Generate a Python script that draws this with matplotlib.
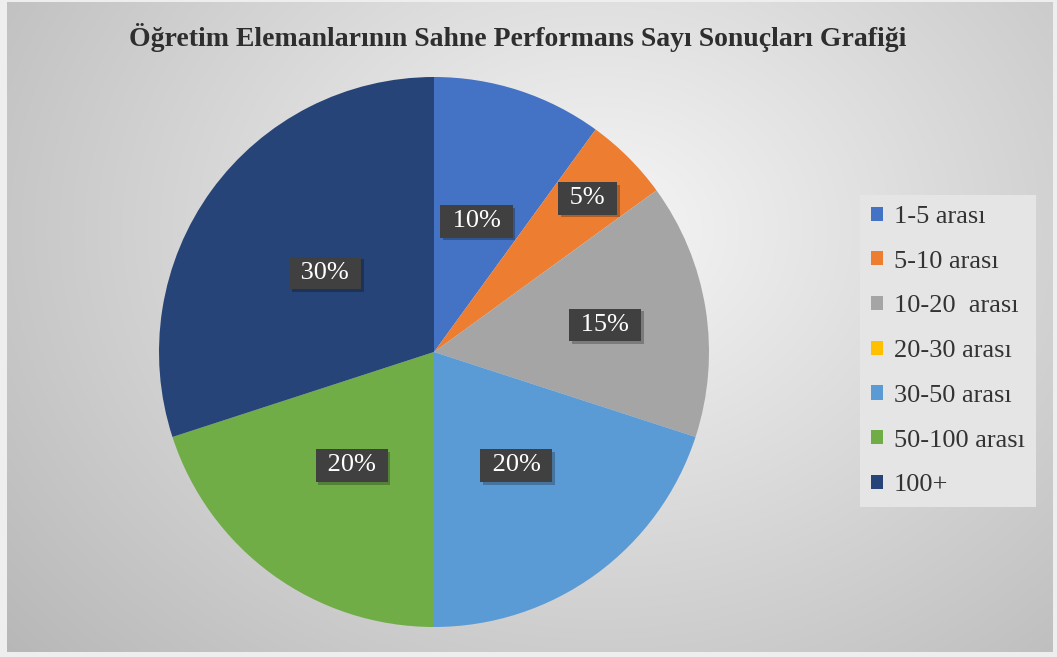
import numpy as np
import matplotlib
matplotlib.use("Agg")
import matplotlib.pyplot as plt
import matplotlib.patheffects as pe
from matplotlib.patches import Patch

title = "Öğretim Elemanlarının Sahne Performans Sayı Sonuçları Grafiği"
categories = ["1-5 arası", "5-10 arası", "10-20  arası", "20-30 arası",
              "30-50 arası", "50-100 arası", "100+"]
values = [10, 5, 15, 0, 20, 20, 30]
colors = ["#4472C4", "#ED7D31", "#A5A5A5", "#FFC000", "#5B9BD5", "#70AD47", "#264478"]

W, H = 1057, 657
fig = plt.figure(figsize=(W / 100, H / 100), dpi=100, facecolor="#eeeeee")

# radial gradient background (chart area inset from the image edges)
x0, x1, y0, y1 = 7, 1053, 2, 652
bg = fig.add_axes([x0 / W, (H - y1) / H, (x1 - x0) / W, (y1 - y0) / H])
yy, xx = np.mgrid[y0:y1, x0:x1]
cx, cy = 600, 230
d = np.sqrt(((xx - cx) / 640.0) ** 2 + ((yy - cy) / 520.0) ** 2)
v = 0.965 - 0.20 * np.clip(d, 0, 1.3)
img = np.dstack([v, v, v])
bg.imshow(img, extent=[x0, x1, y1, y0], aspect="auto", interpolation="bilinear")
bg.set_xlim(x0, x1)
bg.set_ylim(y1, y0)
bg.axis("off")

plt.rcParams["font.family"] = ["Liberation Serif", "DejaVu Serif"]

# pie axes: centre (434,352), radius 275 px
R = 275
ax = fig.add_axes([(434 - R) / W, (H - 352 - R) / H, 2 * R / W, 2 * R / H])
wedges, _ = ax.pie(values, colors=colors, startangle=90, counterclock=False,
                   radius=1.0, center=(0, 0), frame=False,
                   wedgeprops=dict(linewidth=0))
ax.set_xlim(-1, 1)
ax.set_ylim(-1, 1)
ax.set_aspect("auto")
ax.axis("off")

total = sum(values)
label_dist = [0.50, 0.79, 0.63, 0.5, 0.51, 0.51, 0.49]
for w, val, dist in zip(wedges, values, label_dist):
    if val == 0:
        continue
    ang = np.deg2rad((w.theta1 + w.theta2) / 2)
    x, y = dist * np.cos(ang), dist * np.sin(ang)
    t = ax.text(x, y, f" {val / total * 100:.0f}% ", ha="center", va="center",
                color="white", fontsize=19,
                bbox=dict(boxstyle="square,pad=0.2", facecolor="#404040",
                          edgecolor="none"))
    t.get_bbox_patch().set_path_effects([
        pe.SimplePatchShadow(offset=(2, -2), shadow_rgbFace="#000000", alpha=0.25),
        pe.Normal()])

fig.text(0.49, 1 - 37 / H, title, ha="center", va="center", fontsize=20,
         fontweight="bold", color="#2e2e2e")

handles = [Patch(facecolor=c, edgecolor="none") for c in colors]
leg = fig.legend(handles, categories, loc="upper left",
                 bbox_to_anchor=(860 / W, 1 - 195 / H), frameon=True,
                 fontsize=19, handlelength=0.45, handleheight=0.45,
                 handletextpad=0.42, labelspacing=0.86, borderpad=0.42,
                 borderaxespad=0, fancybox=False, labelcolor="#333333")
leg.get_frame().set_facecolor("#e5e5e5")
leg.get_frame().set_edgecolor("none")
leg.get_frame().set_alpha(1)

fig.savefig("out.png", dpi=100, facecolor=fig.get_facecolor())
